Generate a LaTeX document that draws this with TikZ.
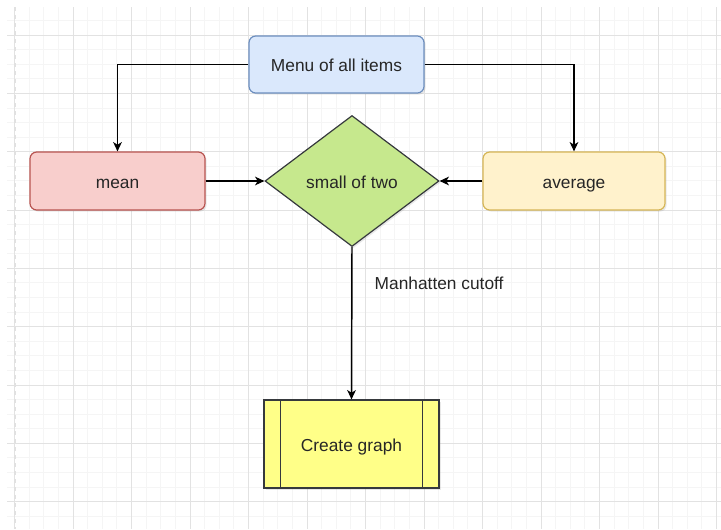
\documentclass[tikz,border=0pt]{standalone}
\usepackage{fontspec}
\setmainfont{Liberation Sans}
\usepackage{tikz}
\usetikzlibrary{shapes.geometric,arrows.meta,positioning,calc,shadows}
\definecolor{menublue}{HTML}{DAE8FC}
\definecolor{menublueline}{HTML}{6C8EBF}
\definecolor{meanred}{HTML}{F8CECC}
\definecolor{meanredline}{HTML}{B85450}
\definecolor{avgyellow}{HTML}{FFF2CC}
\definecolor{avgyellowline}{HTML}{D6B656}
\definecolor{choicegreen}{HTML}{C6E88D}
\definecolor{graphyellow}{HTML}{FFFF88}
\definecolor{darkline}{HTML}{36393D}
\definecolor{gridminor}{HTML}{F5F5F5}
\definecolor{gridmajor}{HTML}{E2E2E2}

\begin{document}
\begin{tikzpicture}[x=0.75pt, y=-0.75pt,
    every node/.style={font=\fontsize{13}{15}\selectfont, text=black!85,
                       text height=13pt, text depth=2.5pt},
    card/.style={rectangle, rounded corners=5pt, line width=0.9pt, inner sep=0pt,
                 minimum width=131.25pt, minimum height=43.5pt, align=center,
                 drop shadow={opacity=0.18, shadow xshift=1.2pt, shadow yshift=-1.2pt}},
    choice/.style={diamond, fill=choicegreen, draw=darkline, line width=0.9pt, inner sep=0pt,
                   minimum width=130.5pt, minimum height=98.25pt,
                   drop shadow={opacity=0.18, shadow xshift=1.2pt, shadow yshift=-1.2pt}},
    procbox/.style={rectangle, fill=graphyellow, draw=darkline, line width=0.9pt, inner sep=0pt,
                    minimum width=131.25pt, minimum height=66pt,
                    drop shadow={opacity=0.18, shadow xshift=1.2pt, shadow yshift=-1.2pt}},
    arr/.style={-{Stealth[length=7pt, width=6.5pt, inset=2pt]}, line width=1.1pt, black}
]
\useasboundingbox (0,0) rectangle (721,529);
\fill[white] (0,0) rectangle (721,529);

% background grid
\begin{scope}
\clip (7,7) rectangle (721,529);
\foreach \k in {-4,...,44} \draw[gridminor, line width=0.6pt] ({73+14.625*\k},7) -- ({73+14.625*\k},529);
\foreach \k in {-2,...,34} \draw[gridminor, line width=0.6pt] (7,{35+14.58*\k}) -- (721,{35+14.58*\k});
\foreach \k in {-1,...,11} \draw[gridmajor, line width=0.7pt] ({73+58.5*\k},7) -- ({73+58.5*\k},529);
\foreach \k in {0,...,8} \draw[gridmajor, line width=0.7pt] (7,{35+58.33*\k}) -- (721,{35+58.33*\k});
\end{scope}
\draw[gridmajor!80!black!40, dashed, line width=0.8pt] (15,7) -- (15,529);

% nodes
\node[card, fill=menublue, draw=menublueline, minimum height=42.75pt] (menu) at (336.5,64.5) {Menu of all items};
\node[card, fill=meanred, draw=meanredline] (mean) at (117.5,181) {mean};
\node[choice] (small) at (352,181) {small of two};
\node[card, fill=avgyellow, draw=avgyellowline, minimum width=136.5pt] (avg) at (574,181) {average};
\node[procbox] (graph) at (351.5,444) {Create graph};
\draw[darkline, line width=0.9pt] ([xshift=12.75pt]graph.north west) -- ([xshift=12.75pt]graph.south west);
\draw[darkline, line width=0.9pt] ([xshift=-12.75pt]graph.north east) -- ([xshift=-12.75pt]graph.south east);

% connectors
\draw[arr] (menu.west) -| (mean.north);
\draw[arr] (menu.east) -| (avg.north);
\draw[arr] (mean.east) -- (small.west);
\draw[arr] (avg.west) -- (small.east);
\draw[arr] (small.south) -- (graph.north);
\node[anchor=west] (cutoff) at (370,282) {Manhatten cutoff};
\end{tikzpicture}
\end{document}
